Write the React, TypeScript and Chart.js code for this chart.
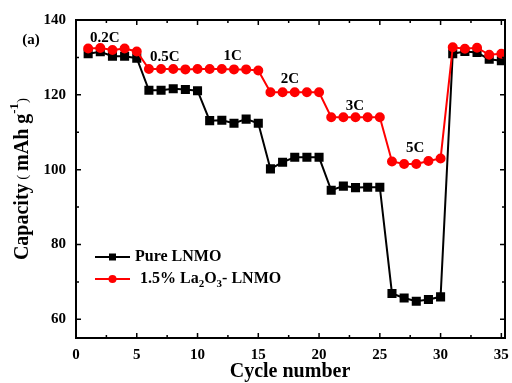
import React, { useEffect, useRef } from "react";
import { Chart, registerables } from "chart.js";

Chart.register(...registerables);

const cycles = [1, 2, 3, 4, 5, 6, 7, 8, 9, 10, 11, 12, 13, 14, 15, 16, 17, 18, 19, 20, 21, 22, 23, 24, 25, 26, 27, 28, 29, 30, 31, 32, 33, 34, 35];
const pureLNMO = [131.0, 131.5, 130.3, 130.3, 129.8, 121.2, 121.2, 121.6, 121.4, 121.1, 113.1, 113.2, 112.4, 113.5, 112.4, 100.2, 102.0, 103.3, 103.3, 103.3, 94.5, 95.6, 95.2, 95.3, 95.3, 66.9, 65.7, 64.8, 65.3, 66.0, 131.0, 131.6, 131.3, 129.5, 129.1];
const laLNMO = [132.4, 132.5, 132.0, 132.4, 131.6, 126.9, 126.9, 126.9, 126.8, 126.9, 126.9, 126.9, 126.8, 126.8, 126.5, 120.7, 120.7, 120.7, 120.7, 120.7, 114.0, 114.0, 114.0, 114.0, 114.0, 102.2, 101.5, 101.5, 102.3, 103.0, 132.7, 132.3, 132.6, 130.7, 131.0];
const yTicks = [60, 80, 100, 120, 140];
const xTicks = [0, 5, 10, 15, 20, 25, 30, 35];
const rateLabels = ["0.2C", "0.5C", "1C", "2C", "3C", "5C"];
const rateLabelCycle = [2.36, 7.3, 12.9, 17.6, 22.95, 27.9];
const rateLabelValue = [135.2, 130.2, 130.4, 124.3, 116.9, 105.8];

const SERIF = "'Liberation Serif', 'Times New Roman', serif";

const decorPlugin = {
  id: "decor",
  afterDraw(chart: any) {
    const ctx = chart.ctx;
    const { left, right, top, bottom } = chart.chartArea;
    const xs = chart.scales.x;
    const ys = chart.scales.y;
    ctx.save();
    ctx.strokeStyle = "#000";
    ctx.lineWidth = 2;
    ctx.strokeRect(left, top, right - left, bottom - top);
    ctx.lineWidth = 1.5;
    ctx.beginPath();
    for (let v = 0; v <= 35; v += 2.5) {
      const px = xs.getPixelForValue(v);
      const len = v % 5 === 0 ? 5 : 3;
      ctx.moveTo(px, bottom);
      ctx.lineTo(px, bottom - len);
      ctx.moveTo(px, top);
      ctx.lineTo(px, top + len);
    }
    for (let v = 60; v <= 140; v += 10) {
      const py = ys.getPixelForValue(v);
      const len = v % 20 === 0 ? 5 : 3;
      ctx.moveTo(left, py);
      ctx.lineTo(left + len, py);
      ctx.moveTo(right, py);
      ctx.lineTo(right - len, py);
    }
    ctx.stroke();

    // rate labels
    ctx.fillStyle = "#000";
    ctx.font = `bold 15px ${SERIF}`;
    ctx.textAlign = "center";
    ctx.textBaseline = "middle";
    rateLabels.forEach((t, i) => {
      ctx.fillText(t, xs.getPixelForValue(rateLabelCycle[i]), ys.getPixelForValue(rateLabelValue[i]));
    });

    // (a)
    ctx.font = `bold 15px ${SERIF}`;
    ctx.fillText("(a)", 31, 40);

    // x title
    ctx.font = `bold 20px ${SERIF}`;
    ctx.fillText("Cycle number", 290, 372);

    // y title
    ctx.save();
    ctx.translate(23, 179);
    ctx.rotate(-Math.PI / 2);
    ctx.textAlign = "left";
    const parts: [string, string, number][] = [
      ["Capacity", `bold 20px ${SERIF}`, 0],
      [" ( ", `15px ${SERIF}`, 0],
      ["mAh g", `bold 20px ${SERIF}`, 0],
      ["-1", `bold 13px ${SERIF}`, -8],
      [")", `15px ${SERIF}`, 0],
    ];
    let total = 0;
    parts.forEach(([t, f]) => {
      ctx.font = f;
      total += ctx.measureText(t).width;
    });
    let cx = -total / 2;
    parts.forEach(([t, f, dy]) => {
      ctx.font = f;
      ctx.fillText(t, cx, dy);
      cx += ctx.measureText(t).width;
    });
    ctx.restore();

    // legend
    const drawLegendLine = (y: number, color: string, square: boolean) => {
      ctx.strokeStyle = color;
      ctx.fillStyle = color;
      ctx.lineWidth = 2;
      ctx.beginPath();
      ctx.moveTo(95, y);
      ctx.lineTo(130, y);
      ctx.stroke();
      if (square) {
        ctx.fillRect(112.5 - 3.5, y - 3.5, 7, 7);
      } else {
        ctx.beginPath();
        ctx.arc(112.5, y, 4, 0, Math.PI * 2);
        ctx.fill();
      }
    };
    drawLegendLine(257, "#000", true);
    drawLegendLine(279, "#ff0000", false);
    ctx.fillStyle = "#000";
    ctx.textAlign = "left";
    ctx.textBaseline = "middle";
    ctx.font = `bold 16px ${SERIF}`;
    ctx.fillText("Pure LNMO", 135, 257);
    const lp: [string, number, number][] = [
      ["1.5% La", 16, 0],
      ["2", 11, 5],
      ["O", 16, 0],
      ["3", 11, 5],
      ["- LNMO", 16, 0],
    ];
    let lx = 140;
    lp.forEach(([t, s, dy]) => {
      ctx.font = `bold ${s}px ${SERIF}`;
      ctx.fillText(t, lx, 279 + dy);
      lx += ctx.measureText(t).width;
    });
    ctx.restore();
  },
};

export default function App() {
  const ref = useRef<HTMLCanvasElement | null>(null);
  useEffect(() => {
    if (!ref.current) return;
    const chart = new Chart(ref.current, {
      type: "line",
      data: {
        labels: cycles,
        datasets: [
          {
            label: "Pure LNMO",
            data: cycles.map((c, i) => ({ x: c, y: pureLNMO[i] })),
            borderColor: "#000",
            backgroundColor: "#000",
            pointStyle: "rect",
            pointRadius: 5,
            borderWidth: 2,
            order: 1,
          },
          {
            label: "1.5% La2O3- LNMO",
            data: cycles.map((c, i) => ({ x: c, y: laLNMO[i] })),
            borderColor: "#ff0000",
            backgroundColor: "#ff0000",
            pointStyle: "circle",
            pointRadius: 4,
            borderWidth: 2,
            order: 0,
          },
        ],
      },
      options: {
        animation: false,
        responsive: false,
        layout: { padding: { left: 0, right: 3, top: 20, bottom: 0 } },
        plugins: { legend: { display: false }, tooltip: { enabled: false } },
        scales: {
          x: {
            type: "linear",
            min: 0,
            max: 35.3,
            grid: { display: false, drawTicks: false },
            border: { display: false },
            afterFit: (s: any) => {
              s.height = 45;
              s.paddingRight = 0;
              s.paddingLeft = 0;
            },
            afterBuildTicks: (s: any) => {
              s.ticks = xTicks.map((v) => ({ value: v }));
            },
            ticks: {
              padding: 8,
              color: "#000",
              font: { family: SERIF, size: 15, weight: "bold" },
              maxRotation: 0,
            },
          },
          y: {
            min: 55,
            max: 140,
            grid: { display: false, drawTicks: false },
            border: { display: false },
            afterFit: (s: any) => {
              s.width = 76;
              s.paddingTop = 0;
              s.paddingBottom = 0;
            },
            afterBuildTicks: (s: any) => {
              s.ticks = yTicks.map((v) => ({ value: v }));
            },
            ticks: {
              padding: 10,
              color: "#000",
              font: { family: SERIF, size: 15, weight: "bold" },
            },
          },
        },
      },
      plugins: [decorPlugin],
    } as any);
    return () => chart.destroy();
  }, []);
  return (
    <div style={{ position: "fixed", left: 0, top: 0, width: 512, height: 383, background: "#fff" }}>
      <canvas ref={ref} width={512} height={383} />
    </div>
  );
}
